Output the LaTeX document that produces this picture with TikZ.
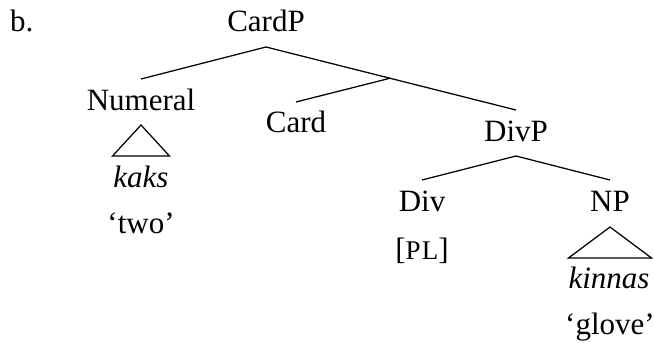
\documentclass[tikz,border=0pt]{standalone}
\usepackage{fontspec}
\setmainfont{Liberation Serif}
\begin{document}
\begin{tikzpicture}[x=1pt,y=-1pt,
  lab/.style={anchor=base,inner sep=0pt},
  edge/.style={line width=1.25pt},
  font=\fontsize{31}{37}\selectfont]
\useasboundingbox (0,0) rectangle (654,343);
\node[anchor=base west,inner sep=0pt] (ex) at (10,31) {b.};
\node[lab] (cardp) at (266,31) {CardP};
\node[lab] (numeral) at (141,110) {Numeral};
\node[lab] (card) at (296,132) {Card};
\node[lab] (divp) at (516,141) {DivP};
\node[lab] (div) at (422,211) {Div};
\node[lab] (np) at (610,211) {NP};
\node[lab] (kaks) at (141,187) {\itshape kaks};
\node[lab] (two) at (141,233) {‘two’};
\node[lab] (pl) at (422,259) {[{\fontsize{27}{32}\selectfont P\kern1ptL}]};
\node[lab] (kinnas) at (609,288) {\itshape kinnas};
\node[lab] (glove) at (610,334) {‘glove’};
% attachment points
\coordinate (cardp-b) at ([yshift=-16pt]cardp.base);
\coordinate (numeral-t) at ([yshift=31pt]numeral.base);
\coordinate (divp-t) at ([yshift=31pt]divp.base);
\coordinate (card-t) at ([yshift=30pt]card.base);
\coordinate (divp-b) at ([yshift=-15pt]divp.base);
\coordinate (div-t) at ([yshift=31pt]div.base);
\coordinate (np-t) at ([yshift=31pt]np.base);
\draw[edge] (cardp-b) -- (numeral-t);
\draw[edge] (cardp-b) -- coordinate[pos=0.496] (mid) (divp-t);
\draw[edge] (mid) -- (card-t);
\draw[edge] (divp-b) -- (div-t);
\draw[edge] (divp-b) -- (np-t);
% triangles
\draw[edge,line join=miter] ([yshift=-15pt]numeral.base) -- ++(-28.5,31) -- ++(57,0) -- cycle;
\draw[edge,line join=miter] ([yshift=-16pt]np.base) -- ++(-41.5,31) -- ++(83,0) -- cycle;
\end{tikzpicture}
\end{document}
